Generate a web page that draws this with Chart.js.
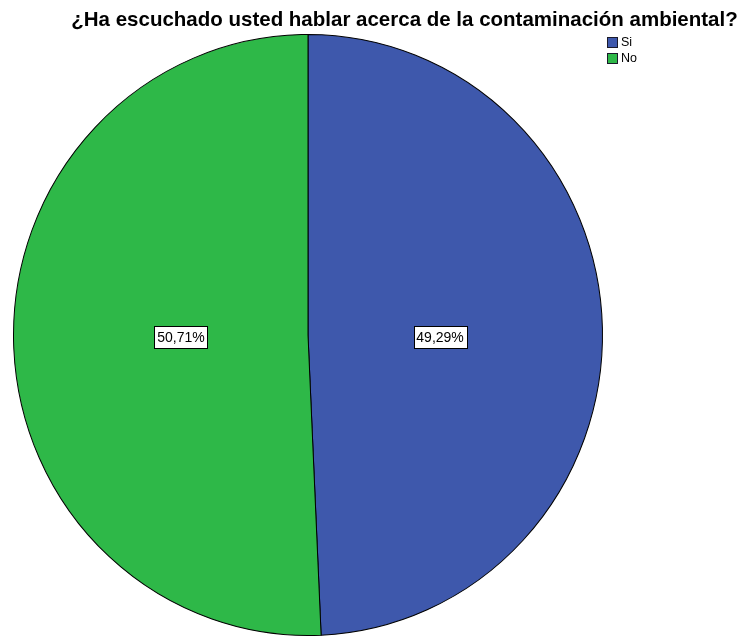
<!DOCTYPE html>
<html>
<head>
<meta charset="utf-8">
<script src="https://cdn.jsdelivr.net/npm/chart.js@4.4.1/dist/chart.umd.min.js"></script>
<style>
html,body{margin:0;padding:0;background:#fff;}
#wrap{width:741px;height:637px;position:relative;}
</style>
</head>
<body>
<div id="wrap"><canvas id="c" width="741" height="637"></canvas></div>
<script>
const categories = ['Si', 'No'];
const percentages = [49.29, 50.71];
const sliceColors = ['#3E58AC', '#2EB848'];
const chartTitle = '¿Ha escuchado usted hablar acerca de la contaminación ambiental?';

function fmt(v){ return v.toFixed(2).replace('.', ',') + '%'; }

const Y_STRETCH = 301 / 295;

const stretch = {
  id: 'stretch',
  beforeDatasetsDraw(chart){
    const meta = chart.getDatasetMeta(0);
    const a = meta.data[0];
    const ctx = chart.ctx;
    ctx.save();
    ctx.translate(a.x, a.y);
    ctx.scale(1, Y_STRETCH);
    ctx.translate(-a.x, -a.y);
  },
  afterDatasetsDraw(chart){
    chart.ctx.restore();
  }
};

const overlay = {
  id: 'overlay',
  afterDraw(chart){
    const ctx = chart.ctx;
    const meta = chart.getDatasetMeta(0);
    ctx.save();
    // slice labels
    ctx.font = '14px "Liberation Sans", Arial, sans-serif';
    ctx.textAlign = 'center';
    ctx.textBaseline = 'middle';
    meta.data.forEach((arc, i) => {
      const p = arc.getProps(['x','y','startAngle','endAngle','outerRadius'], true);
      const mid = (p.startAngle + p.endAngle) / 2;
      const rr = p.outerRadius * 0.44;
      const x = p.x + Math.cos(mid) * rr + 2.5;
      const y = p.y + 2;
      const t = fmt(percentages[i]);
      const w = Math.round(ctx.measureText(t).width + 6);
      const h = 22;
      const bx = Math.round(x - w/2) + 0.5, by = Math.round(y - h/2) + 0.5;
      ctx.fillStyle = '#fff';
      ctx.fillRect(bx, by, w, h);
      ctx.strokeStyle = '#000';
      ctx.lineWidth = 1;
      ctx.strokeRect(bx, by, w, h);
      ctx.fillStyle = '#000';
      ctx.fillText(t, x, y + 1);
    });
    // title
    ctx.font = 'bold 20.5px "Liberation Sans", Arial, sans-serif';
    ctx.textAlign = 'center';
    ctx.textBaseline = 'alphabetic';
    ctx.fillStyle = '#000';
    ctx.fillText(chartTitle, 404.5, 26);
    // legend
    ctx.font = '12.5px "Liberation Sans", Arial, sans-serif';
    ctx.textAlign = 'left';
    ctx.textBaseline = 'middle';
    categories.forEach((c, i) => {
      const y = 37 + i * 16;
      ctx.fillStyle = sliceColors[i];
      ctx.fillRect(607.5, y + 0.5, 10, 10);
      ctx.strokeStyle = '#1a1a2a';
      ctx.lineWidth = 1;
      ctx.strokeRect(607.5, y + 0.5, 10, 10);
      ctx.fillStyle = '#000';
      ctx.fillText(c, 621, y + 6);
    });
    ctx.restore();
  }
};

new Chart(document.getElementById('c'), {
  type: 'pie',
  data: {
    labels: categories,
    datasets: [{
      data: percentages,
      backgroundColor: sliceColors,
      borderColor: '#000',
      borderWidth: 1
    }]
  },
  options: {
    responsive: false,
    animation: false,
    devicePixelRatio: 1,
    layout: { padding: { left: 13, right: 138, top: 40, bottom: 7 } },
    plugins: {
      legend: { display: false },
      title: { display: false },
      tooltip: { enabled: false }
    }
  },
  plugins: [stretch, overlay]
});
</script>
</body>
</html>
